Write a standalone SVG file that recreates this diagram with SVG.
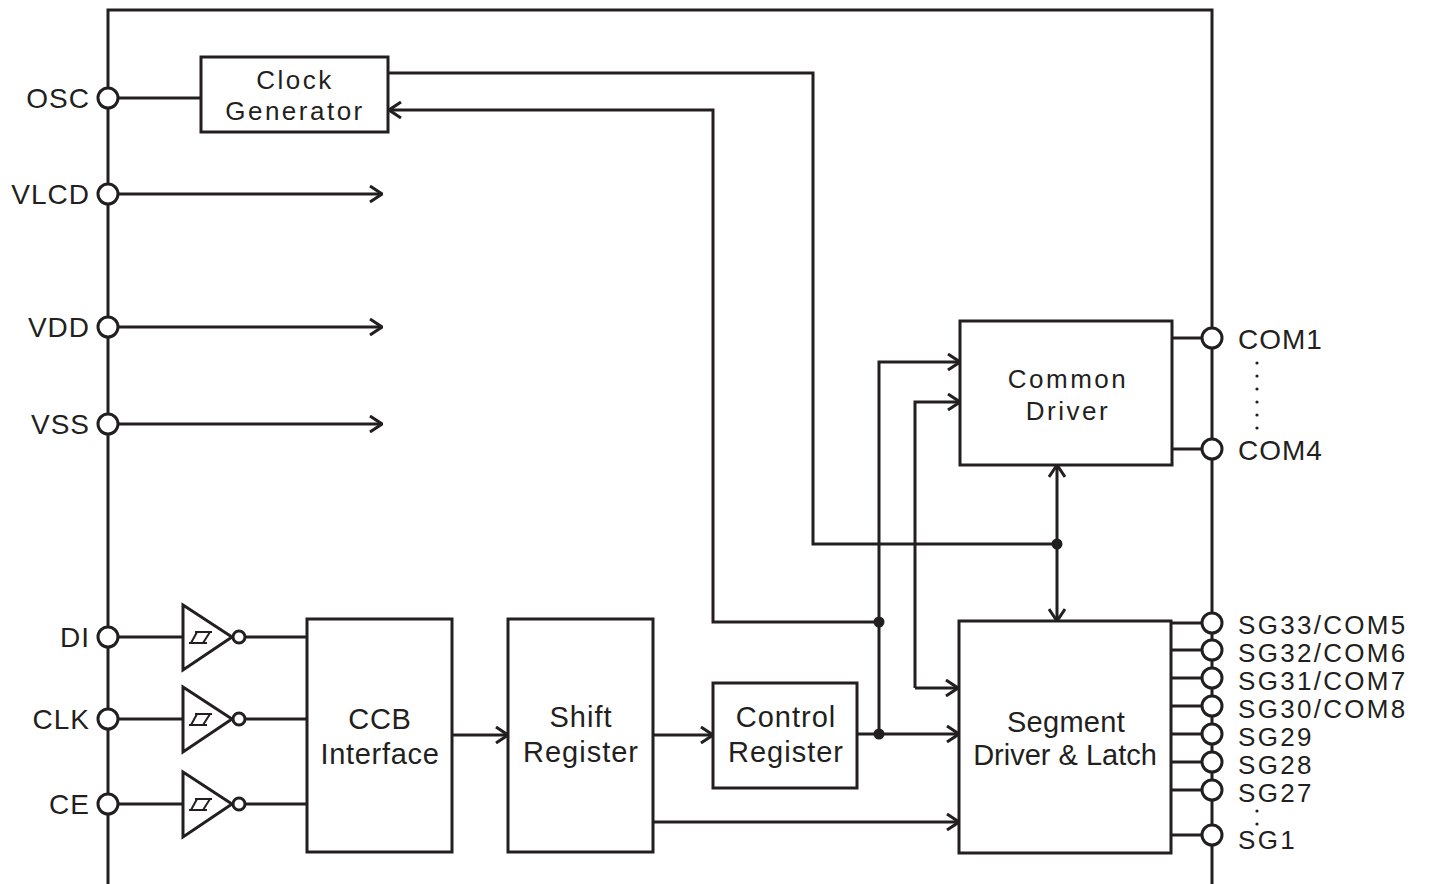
<svg xmlns="http://www.w3.org/2000/svg" width="1429" height="884" viewBox="0 0 1429 884">
<style>
.ln{fill:none;stroke:#231f20;stroke-width:3}
.box{fill:#fff;stroke:#231f20;stroke-width:3}
.pin{fill:#fff;stroke:#231f20;stroke-width:3}
.dot{fill:#231f20}
text{font-family:"Liberation Sans",Arial,sans-serif;font-size:29px;fill:#231f20;letter-spacing:0.7px}
.s{font-size:26px;letter-spacing:2.5px}
.pl{font-size:28px;letter-spacing:1px}
.sg{font-size:26px;letter-spacing:2.3px}
.c{text-anchor:middle}
.e{text-anchor:end}
</style>
<defs>
<marker id="ar" viewBox="0 0 14 18" refX="13" refY="9" markerWidth="14" markerHeight="18" markerUnits="userSpaceOnUse" orient="auto">
<path d="M1,1 L13,9 L1,17" fill="none" stroke="#231f20" stroke-width="3"/>
</marker>
<g id="buf">
<path class="ln" d="M119,0 H183 M246,0 H307"/>
<path class="ln" d="M183,-32 L183,33 L232,0 Z" fill="#fff"/>
<circle class="pin" cx="239" cy="0" r="6"/>
<path class="ln" style="stroke-width:2" d="M189,6 H207 M195,-5 H212 M191,6 L197,-5 M203,6 L210,-5"/>
</g>
</defs>
<rect width="1429" height="884" fill="#fff"/>

<g id="frame">
<path class="ln" d="M108,884 V10 H1212 V884"/>
</g>

<g id="connectors">
<path class="ln" d="M119,98 H201"/>
<path class="ln" marker-end="url(#ar)" d="M119,194 H382"/>
<path class="ln" marker-end="url(#ar)" d="M119,327 H382"/>
<path class="ln" marker-end="url(#ar)" d="M119,424 H382"/>
<path class="ln" d="M388,73 H813 V544 H1057"/>
<path class="ln" marker-end="url(#ar)" d="M1057,544 V465"/>
<path class="ln" marker-end="url(#ar)" d="M1057,544 V621"/>
<path class="ln" marker-end="url(#ar)" d="M879,622 H713 V110 H389"/>
<path class="ln" marker-end="url(#ar)" d="M879,734 V362 H960"/>
<path class="ln" marker-end="url(#ar)" d="M915,688 V402 H960"/>
<path class="ln" d="M915,688 H958" marker-end="url(#ar)"/>
<path class="ln" marker-end="url(#ar)" d="M857,734 H959"/>
<path class="ln" marker-end="url(#ar)" d="M452,735 H508"/>
<path class="ln" marker-end="url(#ar)" d="M653,735 H713"/>
<path class="ln" marker-end="url(#ar)" d="M653,822 H959"/>
<circle class="dot" cx="1057" cy="544" r="5.5"/>
<circle class="dot" cx="879" cy="622" r="5.5"/>
<circle class="dot" cx="879" cy="734" r="5.5"/>
<path class="ln" d="M1172,338 H1201 M1172,449 H1201"/>
<path class="ln" d="M1171,623 H1201 M1171,650 H1201 M1171,678 H1201 M1171,706 H1201 M1171,734 H1201 M1171,762 H1201 M1171,790 H1201 M1171,835 H1201"/>
</g>

<g id="clock-generator">
<rect class="box" x="201" y="57" width="187" height="75"/>
<text class="c s" x="295" y="89">Clock</text>
<text class="c s" x="295" y="120">Generator</text>
</g>
<g id="common-driver">
<rect class="box" x="960" y="321" width="212" height="144"/>
<text class="c s" x="1068" y="388">Common</text>
<text class="c s" x="1068" y="420">Driver</text>
</g>
<g id="segment-driver">
<rect class="box" x="959" y="621" width="212" height="232"/>
<text class="c" x="1066" y="732" style="letter-spacing:0.3px">Segment</text>
<text class="c" x="1065" y="765" style="letter-spacing:0">Driver &amp; Latch</text>
</g>
<g id="ccb-interface">
<rect class="box" x="307" y="619" width="145" height="233"/>
<text class="c" x="380" y="729">CCB</text>
<text class="c" x="380" y="764">Interface</text>
</g>
<g id="shift-register">
<rect class="box" x="508" y="619" width="145" height="233"/>
<text class="c" x="581" y="727" style="letter-spacing:1px">Shift</text>
<text class="c" x="581" y="762" style="letter-spacing:1px">Register</text>
</g>
<g id="control-register">
<rect class="box" x="713" y="683" width="144" height="105"/>
<text class="c" x="786" y="727" style="letter-spacing:1px">Control</text>
<text class="c" x="786" y="762" style="letter-spacing:1px">Register</text>
</g>

<g id="buf-di"><use href="#buf" y="637"/></g>
<g id="buf-clk"><use href="#buf" y="719"/></g>
<g id="buf-ce"><use href="#buf" y="804"/></g>

<g id="left-pins">
<circle class="pin" cx="108" cy="98" r="10"/>
<circle class="pin" cx="108" cy="194" r="10"/>
<circle class="pin" cx="108" cy="327" r="10"/>
<circle class="pin" cx="108" cy="424" r="10"/>
<circle class="pin" cx="108" cy="637" r="10"/>
<circle class="pin" cx="108" cy="719" r="10"/>
<circle class="pin" cx="108" cy="804" r="10"/>
<text class="e pl" x="90" y="108">OSC</text>
<text class="e pl" x="90" y="204">VLCD</text>
<text class="e pl" x="90" y="337">VDD</text>
<text class="e pl" x="90" y="434">VSS</text>
<text class="e pl" x="90" y="647">DI</text>
<text class="e pl" x="90" y="729">CLK</text>
<text class="e pl" x="90" y="814">CE</text>
</g>

<g id="right-pins">
<circle class="pin" cx="1212" cy="338" r="10"/>
<circle class="pin" cx="1212" cy="449" r="10"/>
<circle class="pin" cx="1212" cy="623" r="10"/>
<circle class="pin" cx="1212" cy="650" r="10"/>
<circle class="pin" cx="1212" cy="678" r="10"/>
<circle class="pin" cx="1212" cy="706" r="10"/>
<circle class="pin" cx="1212" cy="734" r="10"/>
<circle class="pin" cx="1212" cy="762" r="10"/>
<circle class="pin" cx="1212" cy="790" r="10"/>
<circle class="pin" cx="1212" cy="835" r="10"/>
<text class="pl" x="1238" y="349">COM1</text>
<text class="pl" x="1238" y="460">COM4</text>
<text class="sg" x="1238" y="634">SG33/COM5</text>
<text class="sg" x="1238" y="662">SG32/COM6</text>
<text class="sg" x="1238" y="690">SG31/COM7</text>
<text class="sg" x="1238" y="718">SG30/COM8</text>
<text class="sg" x="1238" y="746">SG29</text>
<text class="sg" x="1238" y="774">SG28</text>
<text class="sg" x="1238" y="802">SG27</text>
<text class="sg" x="1238" y="849">SG1</text>
<g class="dot">
<circle cx="1257" cy="363" r="1.6"/><circle cx="1257" cy="376" r="1.6"/><circle cx="1257" cy="389" r="1.6"/>
<circle cx="1257" cy="402" r="1.6"/><circle cx="1257" cy="415" r="1.6"/><circle cx="1257" cy="428" r="1.6"/>
<circle cx="1257" cy="811" r="1.6"/><circle cx="1257" cy="824" r="1.6"/>
</g>
</g>
</svg>
